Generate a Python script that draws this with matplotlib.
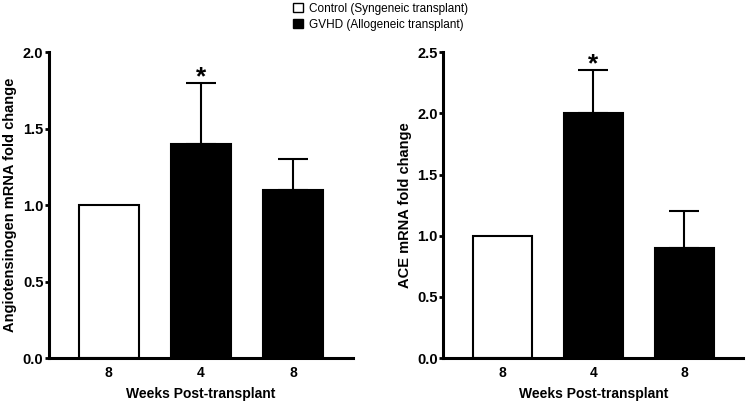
import matplotlib
matplotlib.use("Agg")
from matplotlib import pyplot as plt
from matplotlib.patches import Patch

plt.rcParams['font.family'] = ['Liberation Sans', 'DejaVu Sans']

# data
weeks = ["8", "4", "8"]
groups = ["control", "gvhd", "gvhd"]
agt_mean = [1.0, 1.4, 1.1]
agt_err = [0.0, 0.4, 0.2]
ace_mean = [1.0, 2.0, 0.9]
ace_err = [0.0, 0.35, 0.3]
signif = [False, True, False]
legend_labels = ["Control (Syngeneic transplant)", "GVHD (Allogeneic transplant)"]


def panel(ax, means, errs, ylabel, ymax):
    x = range(len(means))
    colors = ['white' if g == 'control' else 'black' for g in groups]
    ax.bar(x, means, width=0.65, color=colors, edgecolor='black', linewidth=1.5, zorder=2)
    for i in x:
        if errs[i] > 0:
            ax.errorbar(i, means[i], yerr=[[0], [errs[i]]], fmt='none', ecolor='black',
                        elinewidth=1.5, capsize=11, capthick=1.5, zorder=1)
        if signif[i]:
            ax.text(i, means[i] + errs[i] - ymax * 0.02, "*", ha='center', va='bottom',
                    fontsize=19, fontweight='bold')
    ax.set_xlim(-0.65, 2.65)
    ax.set_ylim(0, ymax)
    ax.set_yticks([v * 0.5 for v in range(int(ymax / 0.5) + 1)])
    ax.yaxis.set_major_formatter(matplotlib.ticker.FormatStrFormatter('%.1f'))
    ax.set_xticks(list(x))
    ax.set_xticklabels(weeks, fontsize=10, fontweight='bold')
    for lab in ax.get_yticklabels():
        lab.set_fontsize(10.5)
        lab.set_fontweight('bold')
    ax.tick_params(axis='x', length=0, pad=6)
    ax.tick_params(axis='y', length=3, width=2, pad=1)
    ax.spines['top'].set_visible(False)
    ax.spines['right'].set_visible(False)
    ax.spines['left'].set_linewidth(2.2)
    ax.spines['bottom'].set_linewidth(2.2)
    ax.set_xlabel("Weeks Post-transplant", fontsize=10, fontweight='bold', labelpad=5)
    ax.set_ylabel(ylabel, fontsize=10.5, fontweight='bold', labelpad=4)


fig = plt.figure(figsize=(7.5, 4.01), dpi=100)
ax1 = fig.add_axes([0.0653, 0.107, 0.405, 0.763])
ax2 = fig.add_axes([0.591, 0.107, 0.40, 0.763])

panel(ax1, agt_mean, agt_err, "Angiotensinogen mRNA fold change", 2.0)
panel(ax2, ace_mean, ace_err, "ACE mRNA fold change", 2.5)

handles = [Patch(facecolor='white', edgecolor='black', linewidth=1),
           Patch(facecolor='black', edgecolor='black', linewidth=1)]
fig.legend(handles, legend_labels, loc='upper left', bbox_to_anchor=(0.380, 1.013),
           frameon=False, fontsize=8.5, handlelength=0.8, handleheight=0.8,
           handletextpad=0.5, labelspacing=0.3, borderpad=0.2)

fig.savefig("out.png", dpi=100)
